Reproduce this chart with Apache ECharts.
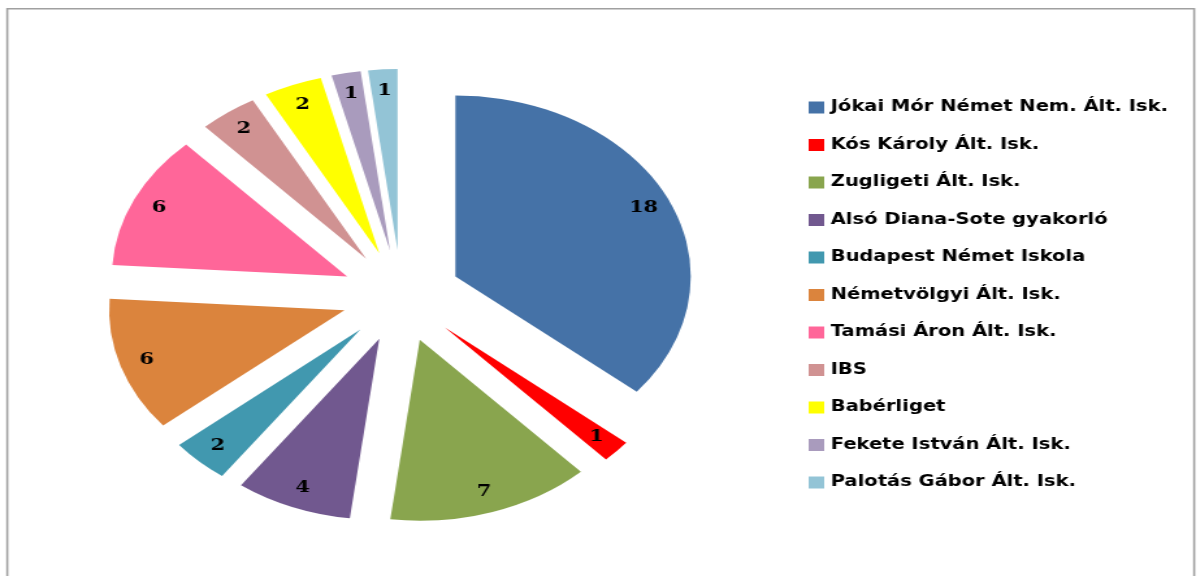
<!DOCTYPE html>
<html>
<head>
<meta charset="utf-8">
<script src="https://cdn.jsdelivr.net/npm/echarts@6/dist/echarts.min.js"></script>
<style>
  html, body { margin: 0; padding: 0; background: #fff; overflow: hidden; }
  /* the reference picture is stretched sideways, so the chart is drawn narrow and widened */
  #pie {
    width: 921px;
    height: 576px;
    transform: scaleX(1.3);
    transform-origin: 0 0;
  }
</style>
</head>
<body>
<div id="pie"></div>
<script>
const schools = [
  'Jókai Mór Német Nem. Ált. Isk.',
  'Kós Károly Ált. Isk.',
  'Zugligeti Ált. Isk.',
  'Alsó Diana-Sote gyakorló',
  'Budapest Német Iskola',
  'Németvölgyi Ált. Isk.',
  'Tamási Áron Ált. Isk.',
  'IBS',
  'Babérliget',
  'Fekete István Ált. Isk.',
  'Palotás Gábor Ált. Isk.'
];
const counts = [18, 1, 7, 4, 2, 6, 6, 2, 2, 1, 1];
const sliceColors = [
  '#4572a7', '#ff0000', '#89a54e', '#71588f', '#4198af', '#db843d',
  '#ff6699', '#d09292', '#ffff00', '#a99bbd', '#93c4d6'
];

const center = [308.7, 296];
const explode = 46;

const chart = echarts.init(document.getElementById('pie'));

chart.setOption({
  animation: false,
  color: sliceColors,
  graphic: [{
    type: 'rect',
    silent: true,
    shape: { x: 5.6, y: 8.8, width: 913, height: 600 },
    style: { fill: 'none', stroke: '#a0a0a0', lineWidth: 1.6 }
  }],
  legend: {
    orient: 'vertical',
    left: 617,
    top: 95,
    icon: 'rect',
    itemWidth: 12,
    itemHeight: 12,
    itemGap: 22.5,
    selectedMode: false,
    data: schools,
    textStyle: {
      fontFamily: 'DejaVu Sans',
      fontWeight: 'bold',
      fontSize: 15,
      lineHeight: 15,
      color: '#000'
    }
  },
  series: [
    {
      // the coloured slices
      type: 'pie',
      center: center,
      radius: [0, 181],
      startAngle: 90,
      selectedMode: 'multiple',
      selectedOffset: explode,
      emphasis: { disabled: true },
      label: { show: false },
      labelLine: { show: false },
      data: schools.map((name, i) => ({
        name: name,
        value: counts[i],
        selected: true,
        itemStyle: { color: sliceColors[i] }
      }))
    },
    {
      // same slices again, empty, only to hold the value labels near the rim
      type: 'pie',
      silent: true,
      center: center,
      radius: [133, 181],
      startAngle: 90,
      selectedMode: 'multiple',
      selectedOffset: explode,
      emphasis: { disabled: true },
      itemStyle: { color: 'rgba(0,0,0,0)' },
      label: {
        show: true,
        position: 'inside',
        formatter: '{c}',
        fontFamily: 'DejaVu Serif',
        fontWeight: 'bold',
        fontSize: 16,
        color: '#000'
      },
      labelLine: { show: false },
      data: schools.map((name, i) => ({
        name: name,
        value: counts[i],
        selected: true
      }))
    }
  ]
});
</script>
</body>
</html>
